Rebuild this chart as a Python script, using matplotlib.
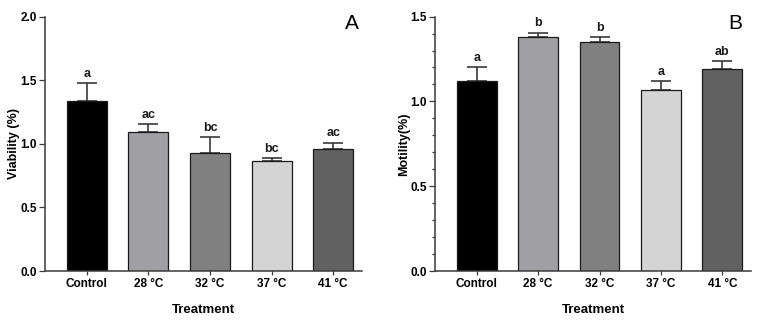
import matplotlib
matplotlib.use("Agg")
import matplotlib.pyplot as plt
from matplotlib.ticker import MultipleLocator

plt.rcParams['font.family'] = ['Liberation Sans', 'DejaVu Sans']

categories = ["Control", "28 °C", "32 °C", "37 °C", "41 °C"]
colors = ["#000000", "#a0a0a4", "#808080", "#d4d4d4", "#616161"]

viability = [1.335, 1.09, 0.93, 0.862, 0.96]
viability_err = [0.142, 0.066, 0.126, 0.027, 0.05]
viability_letters = ["a", "ac", "bc", "bc", "ac"]

motility = [1.12, 1.38, 1.351, 1.067, 1.192]
motility_err = [0.085, 0.026, 0.028, 0.051, 0.046]
motility_letters = ["a", "b", "b", "a", "ab"]

fig = plt.figure(figsize=(7.72, 3.25), dpi=100)
axA = fig.add_axes([0.0583, 0.166, 0.4107, 0.783])
axB = fig.add_axes([0.5635, 0.166, 0.4095, 0.783])

axis_col = "#3a3a3a"

def draw(ax, vals, errs, letters, ylim, ylabel, panel, px, minor):
    x = list(range(len(categories)))
    ax.bar(x, vals, width=0.65, color=colors, edgecolor="#1a1a1a", linewidth=0.9, zorder=2)
    ax.errorbar(x, vals, yerr=[[0]*len(errs), errs], fmt="none", ecolor=axis_col,
                elinewidth=1.2, capsize=7, capthick=1.2, zorder=1)
    span = ylim[1] - ylim[0]
    for xi, v, e, l in zip(x, vals, errs, letters):
        ax.text(xi, v + e + span*0.012, l, ha="center", va="bottom", fontsize=9,
                fontweight="bold", color="#1a1a1a")
    ax.set_xlim(-0.68, 4.47)
    ax.set_ylim(*ylim)
    ax.set_xticks(x)
    ax.set_xticklabels(categories, fontsize=8.5, fontweight="bold")
    ax.yaxis.set_major_locator(MultipleLocator(0.5))
    ax.yaxis.set_major_formatter(matplotlib.ticker.FormatStrFormatter("%.1f"))
    if minor:
        ax.yaxis.set_minor_locator(MultipleLocator(0.1))
        ax.tick_params(axis="y", which="minor", length=2.5, width=0.9, color=axis_col)
    for lab in ax.get_yticklabels():
        lab.set_fontweight("bold")
        lab.set_fontsize(8.5)
    ax.tick_params(axis="both", which="major", length=4, width=0.9, color=axis_col, pad=2)
    ax.tick_params(axis="x", which="major", length=3)
    for s in ["top", "right"]:
        ax.spines[s].set_visible(False)
    for s in ["left", "bottom"]:
        ax.spines[s].set_color(axis_col)
        ax.spines[s].set_linewidth(1.1)
    ax.set_ylabel(ylabel, fontsize=9, fontweight="bold", labelpad=0)
    ax.set_xlabel("Treatment", fontsize=9.5, fontweight="bold", labelpad=10)
    ax.text(px, 1.01, panel, transform=ax.transAxes, fontsize=15, ha="center", va="top")

draw(axA, viability, viability_err, viability_letters, (0, 2.0), "Viability (%)", "A", 0.968, False)
draw(axB, motility, motility_err, motility_letters, (0, 1.5), "Motility(%)", "B", 0.949, True)

fig.savefig("out.png", dpi=100)
